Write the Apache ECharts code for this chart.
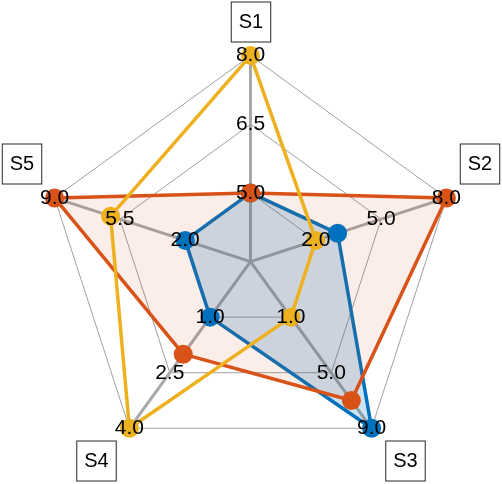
<!DOCTYPE html>
<html><head><meta charset="utf-8">
<script src="https://cdn.jsdelivr.net/npm/echarts@6/dist/echarts.min.js"></script>
<style>html,body{margin:0;padding:0;background:#fff}#c{width:502px;height:484px}</style>
</head><body><div id="c"></div>
<script>
// Axis names, in clockwise order starting at the top
const axisNames = ['S1', 'S2', 'S3', 'S4', 'S5'];
// Tick labels per axis (shown at rings 1/3, 2/3 and 3/3)
const ticksS1 = [5.0, 6.5, 8.0];
const ticksS2 = [2.0, 5.0, 8.0];
const ticksS3 = [1.0, 5.0, 9.0];
const ticksS4 = [1.0, 2.5, 4.0];
const ticksS5 = [2.0, 5.5, 9.0];
// Series values (S1..S5)
const seriesBlue = [5, 3, 9, 1, 2];
const seriesOrange = [5, 8, 7, 2, 9];
const seriesYellow = [8, 2, 1, 4, 6];

const axisTicks = [ticksS1, ticksS2, ticksS3, ticksS4, ticksS5];
// ECharts radar runs counter-clockwise; reorder so S2 ends up on the right
const order = [0, 4, 3, 2, 1];
const reorder = arr => order.map(i => arr[i]);

const FONT = 'Liberation Sans';
const indicator = order.map(i => {
  const t = axisTicks[i];
  return { name: axisNames[i], min: t[0] - (t[1] - t[0]), max: t[2] };
});

function dataSeries(vals, color, areaOpacity) {
  const s = {
    type: 'radar',
    silent: true,
    symbol: 'circle',
    symbolSize: 19,
    data: [{ value: reorder(vals) }],
    lineStyle: { color: color, width: 3.5 },
    itemStyle: { color: color },
    emphasis: { disabled: true }
  };
  if (areaOpacity) s.areaStyle = { color: color, opacity: areaOpacity };
  return s;
}

const tickSeries = [0, 1, 2].map(k => ({
  type: 'radar',
  silent: true,
  z: 10,
  symbol: 'circle',
  symbolSize: 1,
  itemStyle: { color: 'rgba(0,0,0,0)' },
  lineStyle: { opacity: 0, width: 0 },
  emphasis: { disabled: true },
  label: {
    show: true,
    position: 'inside',
    color: '#000',
    fontFamily: FONT,
    fontSize: 21,
    formatter: p => {
      let v = p.value;
      if (Array.isArray(v)) v = v[p.dimensionIndex != null ? p.dimensionIndex : 0];
      return Number(v).toFixed(1);
    }
  },
  data: [{ value: reorder(axisTicks.map(t => t[k])) }]
}));

// Name box positions
const namePos = [[251, 22], [480, 164], [405.5, 461], [96.5, 461], [22, 164]];
const graphic = axisNames.map((n, i) => ({
  type: 'text',
  x: namePos[i][0], y: namePos[i][1],
  z: 100,
  style: {
    text: n, fontSize: 20, fontFamily: FONT, fill: '#000',
    align: 'center', verticalAlign: 'middle',
    textAlign: 'center', textVerticalAlign: 'middle',
    backgroundColor: '#fff', borderColor: '#262626', borderWidth: 1,
    padding: [9, 7, 9, 7], lineHeight: 21
  }
}));

const chart = echarts.init(document.getElementById('c'), null, { renderer: 'canvas' });
chart.setOption({
  animation: false,
  backgroundColor: '#fff',
  radar: {
    center: [250.5, 261.6],
    radius: 206,
    startAngle: 90,
    splitNumber: 3,
    shape: 'polygon',
    indicator: indicator,
    axisName: { show: false },
    axisLine: { lineStyle: { color: '#a8a8a8', width: 3 } },
    splitLine: { lineStyle: { color: '#a0a0a0', width: 1 } },
    splitArea: { show: false },
    axisTick: { show: false },
    axisLabel: { show: false }
  },
  series: [
    dataSeries(seriesBlue, '#0072BD', 0.2),
    dataSeries(seriesOrange, '#D95319', 0.1),
    dataSeries(seriesYellow, '#EDB120', 0)
  ].concat(tickSeries),
  graphic: graphic
});
</script>
</body></html>
